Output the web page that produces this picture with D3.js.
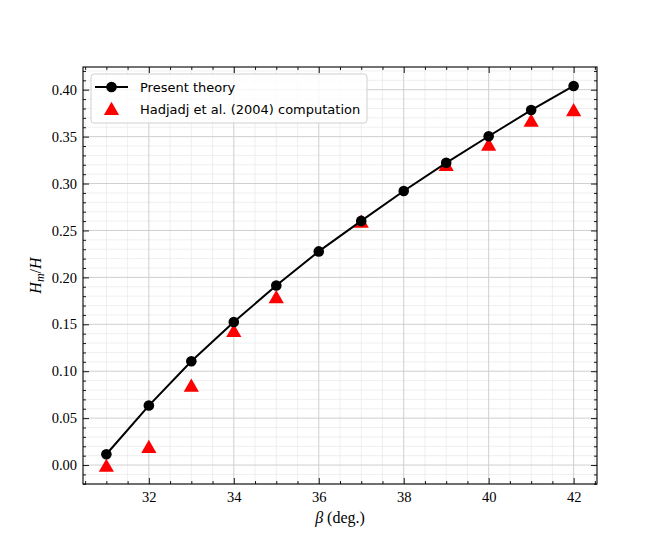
<!DOCTYPE html>
<html lang="en">
<head>
<meta charset="UTF-8">
<title>Hm/H vs beta</title>
<script src="https://d3js.org/d3.v7.min.js"></script>
<style>
    body { margin: 0; background: #fff; }
    .tick-label { font-family: "Liberation Serif", "DejaVu Serif", serif; font-size: 14.5px; fill: #000; }
    .axis-title { font-family: "Liberation Serif", "DejaVu Serif", serif; font-size: 16px; fill: #000; }
    .legend-text { font-family: "DejaVu Sans", sans-serif; font-size: 13px; fill: #000; }
</style>
</head>
<body>
<div id="chart"></div>
<script>
// beta in degrees
var beta = [31, 32, 33, 34, 35, 36, 37, 38, 39, 40, 41, 42];
// present theory
var theory = [0.0115, 0.0634, 0.1106, 0.1524, 0.1913, 0.2277, 0.2602, 0.2921, 0.3221, 0.3504, 0.3783, 0.4040];
// Hadjadj et al. (2004) computation
var hadjBeta = [31, 32, 33, 34, 35, 37, 39, 40, 41, 42];
var hadjadj = [-0.001, 0.0192, 0.0844, 0.1428, 0.1787, 0.2592, 0.3196, 0.3412, 0.3668, 0.3780];

var xTicks = [32, 34, 36, 38, 40, 42];
var yTicks = [0.00, 0.05, 0.10, 0.15, 0.20, 0.25, 0.30, 0.35, 0.40];

var W = 664, H = 554;
var pLeft = 83, pRight = 597, pTop = 67, pBottom = 484;

var svg = d3.select("#chart").append("svg")
    .attr("width", W).attr("height", H);

var x = d3.scaleLinear().domain([30.45, 42.55]).range([pLeft, pRight]);
var y = d3.scaleLinear().domain([-0.0202, 0.4242]).range([pBottom, pTop]);

// minor ticks: every 0.5 on x, every 0.01 on y
var xMinor = d3.range(30.5, 42.51, 0.5).filter(function (v) { return Math.abs(v / 2 - Math.round(v / 2)) > 1e-6; });
var yMinor = d3.range(-0.02, 0.4241, 0.01).map(function (v) { return Math.round(v * 100) / 100; })
    .filter(function (v) { return Math.abs(v * 20 - Math.round(v * 20)) > 1e-6; });

// grid
var grid = svg.append("g");
grid.selectAll(".gxm").data(xMinor).enter().append("line")
    .attr("x1", function (d) { return x(d); }).attr("x2", function (d) { return x(d); })
    .attr("y1", pTop).attr("y2", pBottom)
    .attr("stroke", "#ebebeb").attr("stroke-width", 0.8);
grid.selectAll(".gym").data(yMinor).enter().append("line")
    .attr("y1", function (d) { return y(d); }).attr("y2", function (d) { return y(d); })
    .attr("x1", pLeft).attr("x2", pRight)
    .attr("stroke", "#ebebeb").attr("stroke-width", 0.8);
grid.selectAll(".gx").data(xTicks).enter().append("line")
    .attr("x1", function (d) { return x(d); }).attr("x2", function (d) { return x(d); })
    .attr("y1", pTop).attr("y2", pBottom)
    .attr("stroke", "#cfcfcf").attr("stroke-width", 1);
grid.selectAll(".gy").data(yTicks).enter().append("line")
    .attr("y1", function (d) { return y(d); }).attr("y2", function (d) { return y(d); })
    .attr("x1", pLeft).attr("x2", pRight)
    .attr("stroke", "#cfcfcf").attr("stroke-width", 1);

// axes, ticks pointing inward on all four sides
function styleAxis(g) {
    g.select(".domain").remove();
    g.selectAll(".tick line").attr("stroke", "#000").attr("stroke-width", 0.9);
}
var fmt = d3.format(".2f");

svg.append("g").attr("transform", "translate(0," + pBottom + ")")
    .call(d3.axisBottom(x).tickValues(xMinor).tickSize(-3).tickFormat(""))
    .call(styleAxis);
svg.append("g").attr("transform", "translate(0," + pTop + ")")
    .call(d3.axisTop(x).tickValues(xMinor).tickSize(-3).tickFormat(""))
    .call(styleAxis);
svg.append("g").attr("transform", "translate(" + pLeft + ",0)")
    .call(d3.axisLeft(y).tickValues(yMinor).tickSize(-3).tickFormat(""))
    .call(styleAxis);
svg.append("g").attr("transform", "translate(" + pRight + ",0)")
    .call(d3.axisRight(y).tickValues(yMinor).tickSize(-3).tickFormat(""))
    .call(styleAxis);

var xb = svg.append("g").attr("transform", "translate(0," + pBottom + ")")
    .call(d3.axisBottom(x).tickValues(xTicks).tickSize(-6).tickPadding(8).tickFormat(d3.format("d")))
    .call(styleAxis);
xb.selectAll("text").attr("class", "tick-label");
svg.append("g").attr("transform", "translate(0," + pTop + ")")
    .call(d3.axisTop(x).tickValues(xTicks).tickSize(-6).tickFormat(""))
    .call(styleAxis);
var yl = svg.append("g").attr("transform", "translate(" + pLeft + ",0)")
    .call(d3.axisLeft(y).tickValues(yTicks).tickSize(-6).tickPadding(6).tickFormat(fmt))
    .call(styleAxis);
yl.selectAll("text").attr("class", "tick-label");
svg.append("g").attr("transform", "translate(" + pRight + ",0)")
    .call(d3.axisRight(y).tickValues(yTicks).tickSize(-6).tickFormat(""))
    .call(styleAxis);

// frame
svg.append("rect").attr("x", pLeft).attr("y", pTop)
    .attr("width", pRight - pLeft).attr("height", pBottom - pTop)
    .attr("fill", "none").attr("stroke", "#000").attr("stroke-width", 1.1);

// axis titles
svg.append("text").attr("x", (pLeft + pRight) / 2).attr("y", 523)
    .attr("text-anchor", "middle").attr("class", "axis-title")
    .html('<tspan font-style="italic">β</tspan> (deg.)');
svg.append("text")
    .attr("transform", "translate(41," + ((pTop + pBottom) / 2) + ") rotate(-90)")
    .attr("text-anchor", "middle").attr("class", "axis-title").attr("font-size", "17px")
    .html('<tspan font-style="italic">H</tspan><tspan font-style="italic" font-size="12px" dy="3">m</tspan><tspan dy="-3">/</tspan><tspan font-style="italic">H</tspan>');

// data
var tri = d3.symbol().type(d3.symbolTriangle).size(100);
var plot = svg.append("g");
plot.selectAll(".tri").data(hadjBeta).enter().append("path")
    .attr("d", tri)
    .attr("transform", function (d, i) { return "translate(" + x(d) + "," + (y(hadjadj[i]) + 1.5) + ")"; })
    .attr("fill", "#ff0000");

var line = d3.line().x(function (d) { return x(d); }).y(function (d, i) { return y(theory[i]); });
plot.append("path").datum(beta).attr("d", line)
    .attr("fill", "none").attr("stroke", "#000").attr("stroke-width", 2);
plot.selectAll(".pt").data(beta).enter().append("circle")
    .attr("cx", function (d) { return x(d); })
    .attr("cy", function (d, i) { return y(theory[i]); })
    .attr("r", 5.3).attr("fill", "#000");

// legend
var lg = svg.append("g");
lg.append("rect").attr("x", 91).attr("y", 74).attr("width", 276).attr("height", 49)
    .attr("rx", 3).attr("fill", "#fff").attr("fill-opacity", 0.8)
    .attr("stroke", "#d0d0d0").attr("stroke-width", 1);
lg.append("line").attr("x1", 95).attr("x2", 128).attr("y1", 87).attr("y2", 87)
    .attr("stroke", "#000").attr("stroke-width", 2);
lg.append("circle").attr("cx", 111.5).attr("cy", 87).attr("r", 5.3).attr("fill", "#000");
lg.append("path").attr("d", tri).attr("transform", "translate(111.5,110.5)").attr("fill", "#ff0000");
lg.append("text").attr("x", 140).attr("y", 91.5).attr("class", "legend-text").text("Present theory");
lg.append("text").attr("x", 140).attr("y", 113.5).attr("class", "legend-text").text("Hadjadj et al. (2004) computation");
</script>
</body>
</html>
